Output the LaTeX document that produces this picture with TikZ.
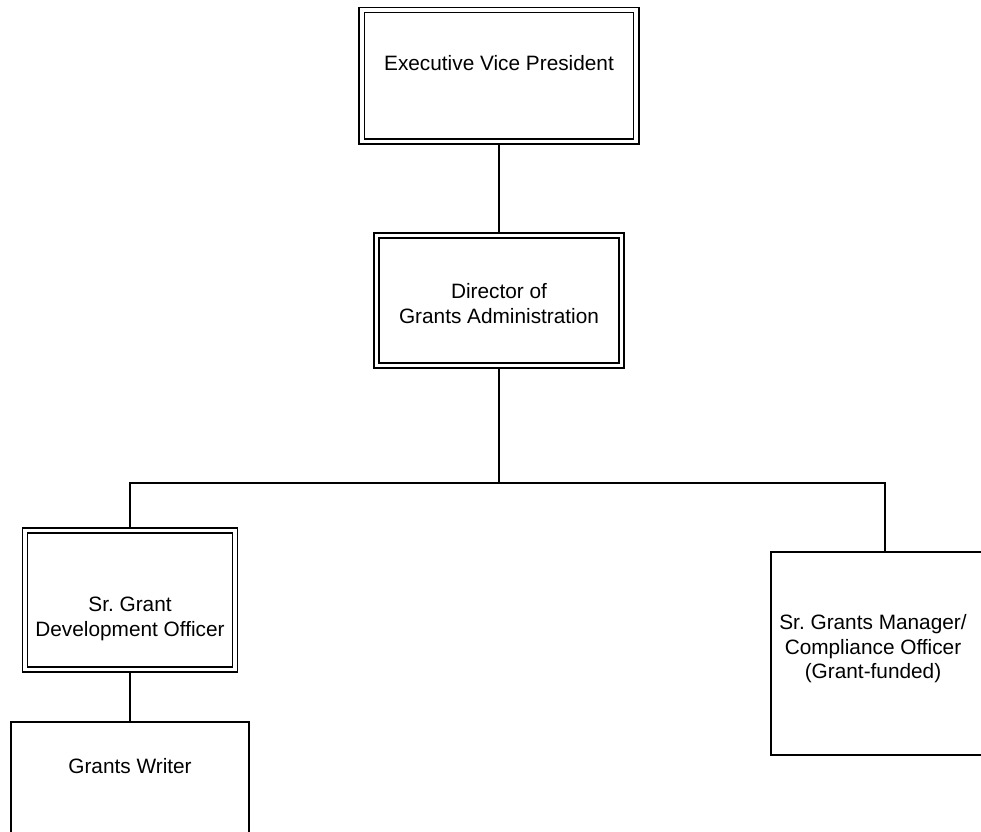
\documentclass[tikz,border=0pt]{standalone}
\usepackage{fontspec}
\setmainfont{Liberation Sans}
\usepackage{tikz}
\frenchspacing

\begin{document}
\begin{tikzpicture}[
  x=1pt,y=-1pt,
  style1/.style={
    draw,double,line width=1.6pt,double distance=3.6pt,
    inner sep=0pt,outer sep=3.4pt,
    minimum width=#1,
    },
  style2/.style={
    draw,line width=1.5pt,inner sep=0pt,outer sep=0pt,
    minimum width=#1,
    },
  style3/.style={
    font=\fontsize{20.8}{24.5}\selectfont,align=center,
    },
  ]
  \clip (0,0) rectangle (981,831);
  \fill[white] (0,0) rectangle (981,831);

  \node[style1=274.3pt,minimum height=131.5pt] (1box) at (499,75.65) {};
  \node[style1=245.3pt,minimum height=129.8pt] (2box) at (499,300.5) {};
  \node[style1=210.1pt,minimum height=138.8pt] (3box) at (130,600) {};
  \node[style2=238pt,minimum height=136pt] (4box) at (130,790) {};
  \node[style2=228pt,minimum height=203pt] (5box) at (885,653.5) {};

  \node[style3] (1txt)
    at ([yshift=13pt]1box.center) {Executive Vice President};
  \node[style3] (2txt)
    at ([yshift=-3pt]2box.center) {Director of\\Grants Administration};
  \node[style3] (3txt)
    at ([yshift=-19pt]3box.center) {Sr. Grant\\Development Officer};
  \node[style3] (4txt)
    at ([yshift=-44.5pt]4box.north) {Grants Writer};
  % \node[style3] (5txt)
  %   at (871,641) {...};
  \node[style3] (5txt)
    at (873,649) {Sr. Grants Manager/\\Compliance Officer\\(Grant-funded)};

  \coordinate (bus) at (499,483);
  \draw[line width=1.5pt]
    (1box.south) -- (2box.north);
  \draw[line width=1.5pt]
    (2box.south) -- (bus);
  \draw[line width=1.5pt]
    (3box.north) |- (bus) -| (5box.north);
  \draw[line width=1.5pt]
    (3box.south) -- (4box.north);
\end{tikzpicture}
\end{document}
